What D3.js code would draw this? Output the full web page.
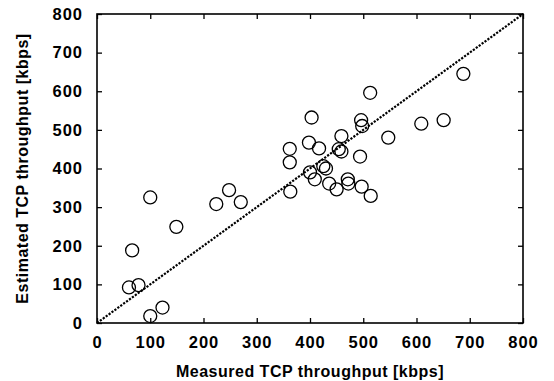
<!DOCTYPE html>
<html>
<head>
<meta charset="utf-8">
<script src="https://cdn.jsdelivr.net/npm/d3@7"></script>
<style>
  body { margin: 0; background: #fff; }
  svg text { font-family: "Liberation Sans", Arial, sans-serif; font-weight: bold; fill: #000; }
</style>
</head>
<body>
<div id="chart"></div>
<script>
const xTicks = [0, 100, 200, 300, 400, 500, 600, 700, 800]
const yTicks = [0, 100, 200, 300, 400, 500, 600, 700, 800]

// measured vs estimated TCP throughput, kbps
const measured = [60, 78, 66, 100, 100, 123, 149, 224, 248, 270,
  363, 362, 362, 398, 403, 417, 400, 409, 425, 430, 436, 450, 454, 459,
  459, 471, 472, 494, 496, 498, 497, 514, 513, 547, 609, 651, 688]
const estimated = [92, 98, 188, 325, 18, 40, 249, 308, 344, 313,
  340, 416, 451, 467, 532, 452, 390, 372, 406, 400, 361, 346, 450, 444,
  484, 372, 361, 431, 525, 510, 353, 329, 596, 480, 516, 525, 645]

const width = 554
const height = 381
const plot = { left: 97, right: 523, top: 14, bottom: 323 }

const svg = d3.select('#chart')
  .append('svg')
  .attr('width', width)
  .attr('height', height)

const x = d3.scaleLinear().domain([0, 800]).range([plot.left, plot.right])
const y = d3.scaleLinear().domain([0, 800]).range([plot.bottom, plot.top])

const styleAxis = (g) => {
  g.select('.domain').remove()
  g.selectAll('.tick line').attr('stroke', '#000').attr('stroke-width', 1.3)
  g.selectAll('text')
    .style('font-size', '16.5px')
    .style('letter-spacing', '1px')
}

svg.append('g')
  .attr('transform', `translate(0,${plot.bottom})`)
  .call(d3.axisBottom(x).tickValues(xTicks).tickSize(-5).tickPadding(13.5))
  .call(styleAxis)

svg.append('g')
  .attr('transform', `translate(${plot.left},0)`)
  .call(d3.axisLeft(y).tickValues(yTicks).tickSize(-5).tickPadding(14))
  .call(styleAxis)

svg.append('g')
  .attr('transform', `translate(0,${plot.top})`)
  .call(d3.axisTop(x).tickValues(xTicks).tickSize(-5).tickFormat(''))
  .call(styleAxis)

svg.append('g')
  .attr('transform', `translate(${plot.right},0)`)
  .call(d3.axisRight(y).tickValues(yTicks).tickSize(-5).tickFormat(''))
  .call(styleAxis)

svg.append('rect')
  .attr('x', plot.left)
  .attr('y', plot.top)
  .attr('width', plot.right - plot.left)
  .attr('height', plot.bottom - plot.top)
  .attr('fill', 'none')
  .attr('stroke', '#000')
  .attr('stroke-width', 1.6)

// y = x reference line
svg.append('line')
  .attr('x1', x(0))
  .attr('y1', y(0))
  .attr('x2', x(800))
  .attr('y2', y(800))
  .attr('stroke', '#000')
  .attr('stroke-width', 2.2)
  .attr('stroke-dasharray', '2.2,1.4')

svg.append('g')
  .selectAll('circle')
  .data(measured.map((m, i) => [m, estimated[i]]))
  .join('circle')
  .attr('cx', (d) => x(d[0]))
  .attr('cy', (d) => y(d[1]))
  .attr('r', 6.5)
  .attr('fill', 'none')
  .attr('stroke', '#000')
  .attr('stroke-width', 1.3)

svg.append('text')
  .attr('x', (plot.left + plot.right) / 2)
  .attr('y', 377)
  .attr('text-anchor', 'middle')
  .style('font-size', '16px')
  .style('letter-spacing', '0.5px')
  .text('Measured TCP throughput [kbps]')

svg.append('text')
  .attr('transform', `translate(28,${(plot.top + plot.bottom) / 2}) rotate(-90)`)
  .attr('text-anchor', 'middle')
  .style('font-size', '16px')
  .style('letter-spacing', '0.5px')
  .text('Estimated TCP throughput [kbps]')
</script>
</body>
</html>
